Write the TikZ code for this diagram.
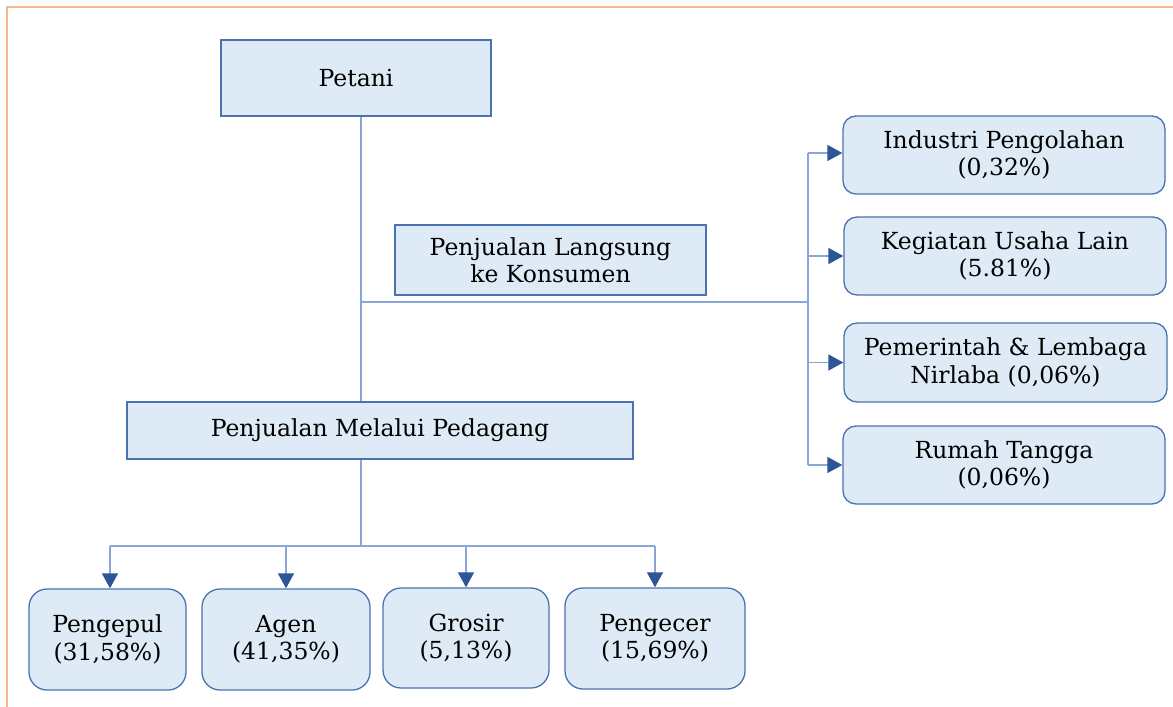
\documentclass[tikz,border=0pt]{standalone}
\usepackage{fontspec}
\setmainfont{DejaVu Serif}
\usetikzlibrary{arrows.meta}
\definecolor{boxfill}{HTML}{DEEBF7}
\definecolor{boxdraw}{HTML}{4A72B0}
\definecolor{linecol}{HTML}{8AA6D8}
\definecolor{tipcol}{HTML}{2E5597}
\definecolor{framecol}{HTML}{F6B88E}
\begin{document}
\begin{tikzpicture}[x=1pt,y=-1pt,
  box/.style={draw=boxdraw, fill=boxfill, line width=1.3pt, inner sep=0pt, align=center,
    font=\fontsize{23.5}{27.5}\selectfont},
  rbox/.style={box, rounded corners=13pt},
  bbox/.style={box, rounded corners=18pt},
  conn/.style={draw=linecol, line width=1.4pt},
  arr/.style={conn, -{Triangle[width=16pt,length=15pt,color=tipcol]}}]
\useasboundingbox (0,0) rectangle (1173,707);
\draw[framecol, line width=1.2pt] (7,707) -- (7,7) -- (1173,7);

\node[box, minimum width=270pt, minimum height=76pt] (petani) at (356,78) {Petani};
\node[box, minimum width=311pt, minimum height=70pt] (langsung) at (550.5,260) {Penjualan Langsung\\ke Konsumen};
\node[box, minimum width=506pt, minimum height=57pt] (pedagang) at (380,430.5) {Penjualan Melalui Pedagang};

\node[rbox, minimum width=322pt, minimum height=78pt] (ind) at (1004,155) {Industri Pengolahan\\(0,32\%)};
\node[rbox, minimum width=322pt, minimum height=78pt] (keg) at (1005,256) {Kegiatan Usaha Lain\\(5.81\%)};
\node[rbox, minimum width=323pt, minimum height=79pt] (pem) at (1005.5,362.5) {Pemerintah \& Lembaga\\Nirlaba (0,06\%)};
\node[rbox, minimum width=322pt, minimum height=78pt] (rt) at (1004,465) {Rumah Tangga\\(0,06\%)};

\node[bbox, minimum width=157pt, minimum height=101pt] (pengepul) at (107.5,639.5) {Pengepul\\(31,58\%)};
\node[bbox, minimum width=168pt, minimum height=101pt] (agen) at (286,639.5) {Agen\\(41,35\%)};
\node[bbox, minimum width=166pt, minimum height=100pt] (grosir) at (466,638) {Grosir\\(5,13\%)};
\node[bbox, minimum width=180pt, minimum height=101pt] (pengecer) at (655,638.5) {Pengecer\\(15,69\%)};

\coordinate (trunk) at (361,302);
\coordinate (rv) at (808,302);
\coordinate (hb) at (361,546);
\coordinate (hbl) at (110,546);
\coordinate (hbr) at (655,546);

% main trunk
\draw[conn] (petani.south -| trunk) -- (pedagang.north -| trunk);
\draw[conn] (trunk) -- (rv);
\draw[conn] (ind.west -| rv) ++(0,-2) -- (rt.west -| rv);
\draw[arr] (ind.west -| rv) ++(0,-2) -- ([yshift=2pt]ind.west);
\draw[arr] (keg.west -| rv) -- (keg.west);
\draw[arr] (pem.west -| rv) -- (pem.west);
\draw[arr] (rt.west -| rv) -- (rt.west);

% bottom branch
\draw[conn] (pedagang.south -| hb) -- (hb);
\draw[conn] (hbl) -- (hbr);
\draw[arr] (hbl) -- (hbl |- pengepul.north);
\draw[arr] (agen.north |- hb) -- (agen.north);
\draw[arr] (grosir.north |- hb) -- (grosir.north);
\draw[arr] (pengecer.north |- hb) -- (pengecer.north);
\end{tikzpicture}
\end{document}
